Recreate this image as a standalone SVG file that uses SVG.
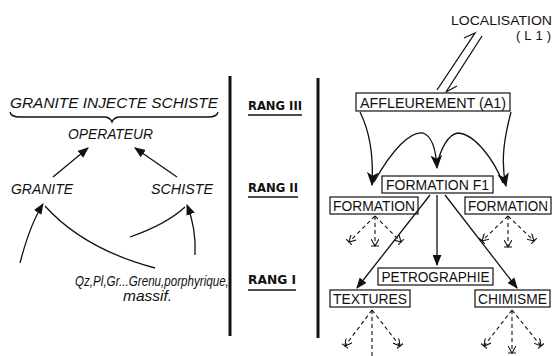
<svg xmlns="http://www.w3.org/2000/svg" width="554" height="356" viewBox="0 0 554 356">
<style>
.it{font-family:"Liberation Sans",Arial,sans-serif;font-style:italic;font-size:15px;fill:#111}
.sm{font-size:14px}
.bx{font-family:"Liberation Sans",Arial,sans-serif;font-size:14.5px;fill:#111}
.lc{font-family:"Liberation Sans",Arial,sans-serif;font-size:13px;fill:#111}
.rg{font-family:"DejaVu Sans",sans-serif;font-size:13px;font-weight:bold;fill:#111}
.box{fill:#fff;stroke:#111;stroke-width:1.2}
.ln{fill:none;stroke:#111;stroke-width:1.3}
.dl{fill:none;stroke:#111;stroke-width:1.1;stroke-dasharray:4 3}
.bar{stroke:#111;stroke-width:3}
</style>
<defs>
<marker id="tri" viewBox="0 0 10 8" refX="9" refY="4" markerWidth="11" markerHeight="9" markerUnits="userSpaceOnUse" orient="auto">
<path d="M0,0 L10,4 L0,8 z" fill="#111"/>
</marker>
<marker id="big" viewBox="0 0 12 10" refX="11" refY="5" markerWidth="14" markerHeight="12" markerUnits="userSpaceOnUse" orient="auto">
<path d="M0,0 L12,5 L0,10 L3,5 z" fill="#111"/>
</marker>
<marker id="open" viewBox="0 0 8 8" refX="7" refY="4" markerWidth="8" markerHeight="8" markerUnits="userSpaceOnUse" orient="auto">
<path d="M0,0 L7,4 L0,8 M7,0 L7,8" fill="none" stroke="#111" stroke-width="1.1"/>
</marker>
</defs>

<g id="bars">
<line class="bar" x1="230" y1="76" x2="230" y2="336"/>
<line class="bar" x1="318" y1="78" x2="318" y2="338"/>
</g>

<g id="rang3"><text class="rg" x="248" y="110" textLength="54" lengthAdjust="spacingAndGlyphs">RANG III</text><line class="ln" x1="248" y1="115" x2="302" y2="115"/></g>
<g id="rang2"><text class="rg" x="248" y="192" textLength="50" lengthAdjust="spacingAndGlyphs">RANG II</text><line class="ln" x1="248" y1="197" x2="298" y2="197"/></g>
<g id="rang1"><text class="rg" x="248" y="284" textLength="48" lengthAdjust="spacingAndGlyphs">RANG I</text><line class="ln" x1="248" y1="290" x2="296" y2="290"/></g>

<g id="gis"><text class="it" x="10" y="108" textLength="208" lengthAdjust="spacingAndGlyphs">GRANITE INJECTE SCHISTE</text>
<path class="ln" stroke-width="1" d="M10,112 Q11,117 20,117 L104,117 Q110,117 112,122 Q114,117 120,117 L208,117 Q217,117 218,112"/></g>
<g id="operateur"><text class="it" x="68" y="139" textLength="85" lengthAdjust="spacingAndGlyphs">OPERATEUR</text></g>
<g id="granite"><text class="it" x="11" y="194" textLength="62" lengthAdjust="spacingAndGlyphs">GRANITE</text></g>
<g id="schiste"><text class="it" x="151" y="194" textLength="62" lengthAdjust="spacingAndGlyphs">SCHISTE</text></g>
<g id="qz"><text class="it sm" transform="translate(75,286) scale(0.83,1)">Qz,Pl,Gr...Grenu,porphyrique,</text>
<text class="it sm" x="123" y="301" textLength="49" lengthAdjust="spacingAndGlyphs">massif.</text></g>

<g id="localisation"><text class="lc" x="451" y="25" textLength="101" lengthAdjust="spacingAndGlyphs">LOCALISATION</text>
<text class="lc" x="516" y="40" textLength="35" lengthAdjust="spacing">(L1)</text></g>
<g id="a1"><rect class="box" x="356" y="93" width="154" height="18"/><text class="bx" x="433" y="107.5" text-anchor="middle" textLength="146" lengthAdjust="spacingAndGlyphs">AFFLEUREMENT (A1)</text></g>
<g id="f1"><rect class="box" x="382" y="176" width="111" height="17"/><text class="bx" x="437.5" y="190" text-anchor="middle" textLength="103" lengthAdjust="spacingAndGlyphs">FORMATION F1</text></g>
<g id="fl"><rect class="box" x="330" y="197" width="88" height="17"/><text class="bx" x="374" y="211" text-anchor="middle" textLength="82" lengthAdjust="spacingAndGlyphs">FORMATION</text></g>
<g id="fr"><rect class="box" x="465" y="197" width="86" height="17"/><text class="bx" x="508" y="211" text-anchor="middle" textLength="80" lengthAdjust="spacingAndGlyphs">FORMATION</text></g>
<g id="petro"><rect class="box" x="378" y="268" width="115" height="17"/><text class="bx" x="435.5" y="282" text-anchor="middle" textLength="108" lengthAdjust="spacingAndGlyphs">PETROGRAPHIE</text></g>
<g id="textures"><rect class="box" x="330" y="290" width="80" height="17"/><text class="bx" x="370" y="304" text-anchor="middle" textLength="74" lengthAdjust="spacingAndGlyphs">TEXTURES</text></g>
<g id="chimisme"><rect class="box" x="475" y="290" width="75" height="17"/><text class="bx" x="512.5" y="304" text-anchor="middle" textLength="69" lengthAdjust="spacingAndGlyphs">CHIMISME</text></g>

<g id="connectors">
<line class="ln" x1="53" y1="177" x2="88" y2="148" marker-end="url(#tri)"/>
<line class="ln" x1="177" y1="177" x2="135" y2="148" marker-end="url(#tri)"/>
<path class="ln" d="M20,263 C26,240 34,218 43,204" marker-end="url(#tri)"/>
<path class="ln" d="M155,268 C110,256 72,236 45,206"/>
<path class="ln" d="M130,237 C150,230 172,219 185,207"/>
<path class="ln" d="M195,255 C196,236 193,220 187,205" marker-end="url(#tri)"/>

<path class="ln" d="M437,90 L475,33 L464,38"/>
<path class="ln" d="M482,36 L446,92 L457,86"/>

<path class="ln" d="M360,112 C368,128 374,150 372,185" marker-end="url(#big)"/>
<path class="ln" d="M511,112 C505,135 500,160 506,186" marker-end="url(#big)"/>
<path class="ln" d="M374,182 C392,150 410,131 423,133 C432,136 436,150 437,168" marker-end="url(#big)"/>
<path class="ln" d="M437,166 C440,150 448,134 458,133 C475,134 494,160 503,183"/>

<line class="ln" x1="430" y1="195" x2="357" y2="288" marker-end="url(#tri)"/>
<line class="ln" x1="437" y1="195" x2="437" y2="265" marker-end="url(#tri)"/>
<line class="ln" x1="445" y1="195" x2="517" y2="288" marker-end="url(#tri)"/>

<line class="dl" x1="375" y1="216" x2="349" y2="242" marker-end="url(#open)"/>
<line class="dl" x1="375" y1="216" x2="375" y2="246" marker-end="url(#open)"/>
<line class="dl" x1="375" y1="216" x2="401" y2="242" marker-end="url(#open)"/>
<line class="dl" x1="508" y1="216" x2="482" y2="241" marker-end="url(#open)"/>
<line class="dl" x1="508" y1="216" x2="508" y2="247" marker-end="url(#open)"/>
<line class="dl" x1="508" y1="216" x2="534" y2="241" marker-end="url(#open)"/>
<line class="dl" x1="372" y1="310" x2="345" y2="346" marker-end="url(#open)"/>
<line class="dl" x1="372" y1="310" x2="372" y2="358"/>
<line class="dl" x1="372" y1="310" x2="400" y2="346" marker-end="url(#open)"/>
<line class="dl" x1="512" y1="310" x2="484" y2="346" marker-end="url(#open)"/>
<line class="dl" x1="512" y1="310" x2="512" y2="353" marker-end="url(#open)"/>
<line class="dl" x1="512" y1="310" x2="541" y2="346" marker-end="url(#open)"/>
</g>
</svg>
